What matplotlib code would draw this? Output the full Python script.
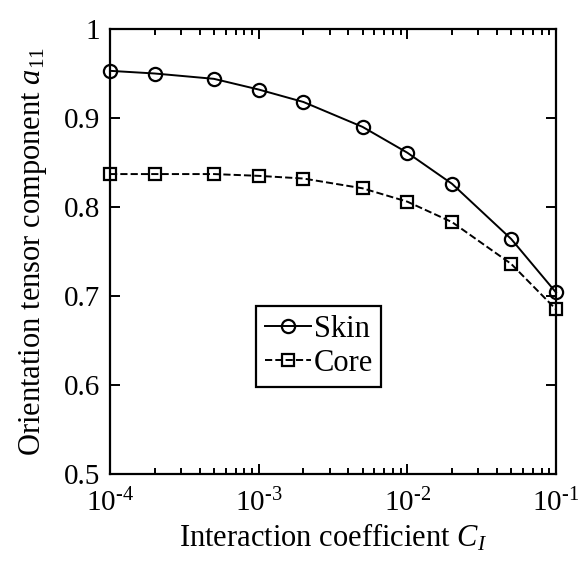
import numpy as np
import matplotlib
matplotlib.use('Agg')
import matplotlib.pyplot as plt
from matplotlib.ticker import LogLocator, FixedLocator, FixedFormatter

plt.rcParams['font.family'] = ['Liberation Serif', 'DejaVu Serif']
plt.rcParams['mathtext.fontset'] = 'custom'
plt.rcParams['mathtext.rm'] = 'Liberation Serif'
plt.rcParams['mathtext.it'] = 'Liberation Serif:italic'

# data
ci = [1e-4, 2e-4, 5e-4, 1e-3, 2e-3, 5e-3, 1e-2, 2e-2, 5e-2, 1e-1]
skin = [0.953, 0.950, 0.944, 0.932, 0.918, 0.890, 0.861, 0.826, 0.764, 0.704]
core = [0.837, 0.837, 0.837, 0.835, 0.832, 0.821, 0.806, 0.783, 0.736, 0.685]
ytick_vals = [0.5, 0.6, 0.7, 0.8, 0.9, 1.0]
ytick_labels = ['0.5', '0.6', '0.7', '0.8', '0.9', '1']
xtick_vals = [1e-4, 1e-3, 1e-2, 1e-1]
xtick_labels = [r'10$^{\text{-}4}$', r'10$^{\text{-}3}$', r'10$^{\text{-}2}$', r'10$^{\text{-}1}$']

fig = plt.figure(figsize=(5.79, 5.66), dpi=100)
ax = fig.add_axes([110 / 579, 1 - 474 / 566, 446 / 579, 445 / 566])

ax.plot(ci, skin, '-', color='black', lw=1.4, marker='o', ms=9.5,
        mfc='none', mec='black', mew=1.6, label='Skin', clip_on=False)
ax.plot(ci, core, '--', color='black', lw=1.4, marker='s', ms=8.5,
        mfc='none', mec='black', mew=1.6, label='Core', clip_on=False)

ax.set_xscale('log')
ax.set_xlim(1e-4, 1e-1)
ax.set_ylim(0.5, 1.0)
ax.yaxis.set_major_locator(FixedLocator(ytick_vals))
ax.yaxis.set_major_formatter(FixedFormatter(ytick_labels))
ax.xaxis.set_major_locator(FixedLocator(xtick_vals))
ax.xaxis.set_major_formatter(FixedFormatter(xtick_labels))
ax.xaxis.set_minor_locator(LogLocator(base=10, subs=np.arange(2, 10), numticks=10))

ax.tick_params(which='both', direction='in', top=True, right=True,
               labelsize=21, width=1.4)
ax.tick_params(which='major', length=7)
ax.tick_params(which='minor', length=4)
ax.tick_params(axis='x', pad=11)
ax.tick_params(axis='y', pad=7)
for s in ax.spines.values():
    s.set_linewidth(1.6)

ax.set_xlabel('Interaction coefficient $C_I$', fontsize=22, labelpad=3)
ax.set_ylabel('Orientation tensor component $a_{11}$', fontsize=22, labelpad=11)

leg = ax.legend(loc='lower left', bbox_to_anchor=(0.327, 0.196, 0.281, 0.182),
                mode='expand', fontsize=22, handlelength=1.5, handletextpad=0.1,
                borderpad=0.3, labelspacing=0.15, fancybox=False, framealpha=1,
                borderaxespad=0)
leg.get_frame().set_edgecolor('black')
leg.get_frame().set_linewidth(1.6)

fig.savefig('out.png', dpi=100)
